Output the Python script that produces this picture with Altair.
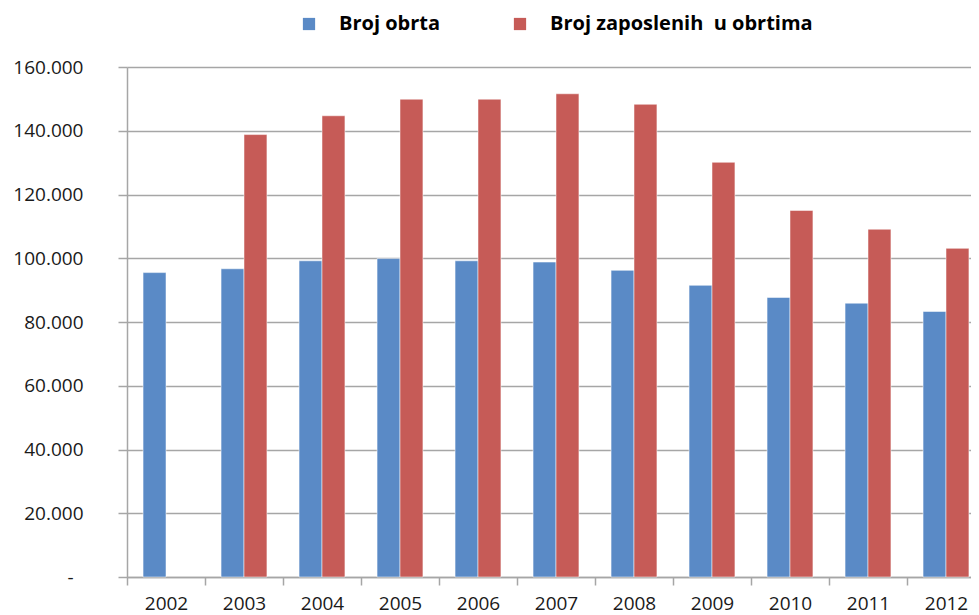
import altair as alt
import pandas as pd

years = ["2002", "2003", "2004", "2005", "2006", "2007", "2008", "2009", "2010", "2011", "2012"]
broj_obrta = [95500, 96700, 99200, 99900, 99200, 98800, 96200, 91500, 87700, 85900, 83300]
broj_zaposlenih = [None, 138800, 144700, 149900, 149900, 151600, 148300, 130100, 115000, 109100, 103100]
series_names = ["Broj obrta", "Broj zaposlenih u obrtima"]
colors = ["#5A8AC6", "#C65B57"]

rows = []
for i, y in enumerate(years):
    rows.append({"year": y, "series": series_names[0], "value": broj_obrta[i]})
    if broj_zaposlenih[i] is not None:
        rows.append({"year": y, "series": series_names[1], "value": broj_zaposlenih[i]})
df = pd.DataFrame(rows)

FONT = "Open Sans"
GRID = "#A6A6A6"

chart = alt.Chart(df).mark_bar(stroke="white", strokeOpacity=0.5, strokeWidth=1).encode(
    x=alt.X("year:N", sort=years, title=None,
            scale=alt.Scale(domain=years, paddingInner=0, paddingOuter=0, range=[0, 858]),
            axis=alt.Axis(labelAngle=0, tickBand="extent", tickSize=8, tickColor=GRID,
                          domainColor=GRID, domainWidth=1.5, tickWidth=1.5,
                          labelFont=FONT, labelFontSize=19, labelColor="#1a1a1a",
                          labelPadding=9, grid=False)),
    xOffset=alt.XOffset("series:N", sort=series_names,
                        scale=alt.Scale(domain=series_names, paddingInner=0, paddingOuter=0.7)),
    y=alt.Y("value:Q", title=None,
            scale=alt.Scale(domain=[0, 160000], nice=False),
            axis=alt.Axis(values=[0, 20000, 40000, 60000, 80000, 100000, 120000, 140000, 160000],
                          labelExpr="datum.value == 0 ? '-' : replace(format(datum.value, ',.0f'), ',', '.')",
                          tickSize=9, tickColor=GRID, tickWidth=1.5,
                          domainColor=GRID, domainWidth=1.5,
                          gridColor=GRID, gridWidth=1.5,
                          labelFont=FONT, labelFontSize=19, labelColor="#1a1a1a",
                          labelPadding={"condition": {"test": "datum.value === 0", "value": 45}, "value": 35})),
    color=alt.Color("series:N", sort=series_names,
                    scale=alt.Scale(domain=series_names, range=colors),
                    legend=alt.Legend(title=None, orient="none", direction="horizontal",
                                      legendX=172, legendY=-53,
                                      symbolType="square", symbolSize=150, symbolStrokeWidth=0,
                                      labelFont=FONT, labelFontSize=20, labelFontWeight="bold",
                                      labelExpr="datum.label == 'Broj zaposlenih u obrtima' ? '\u00a0\u00a0Broj zaposlenih\u00a0\u00a0u obrtima' : datum.label",
                                      labelColor="#000000", labelOffset=20, columnPadding=69,
                                      labelLimit=500)),
).properties(
    width=844, height=510,
    autosize=alt.AutoSizeParams(type="none"),
    padding={"left": 119, "top": 59, "right": 0, "bottom": 40},
).configure_view(stroke=None)

chart.save("out.html", embed_options={"renderer": "svg", "actions": False})
